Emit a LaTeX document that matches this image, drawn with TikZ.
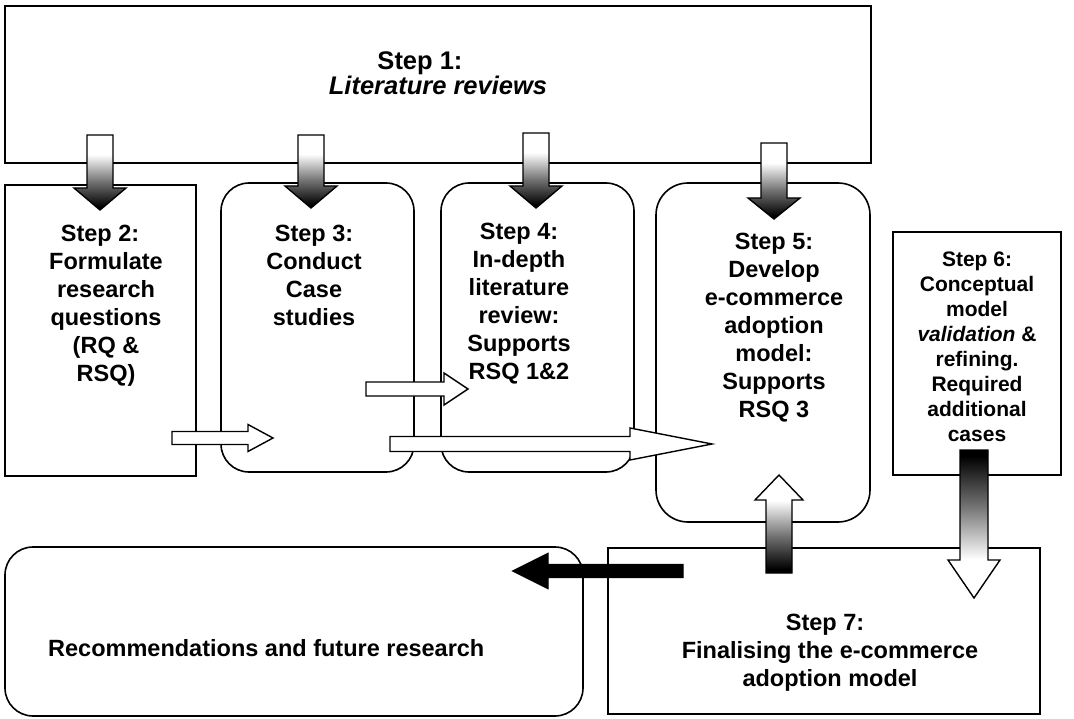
\documentclass[tikz,border=0pt]{standalone}
\usepackage{fontspec}
\setmainfont{Liberation Sans}
\usetikzlibrary{calc}
% dark at the bottom, fading to white towards the top
\pgfdeclareverticalshading{stepfade}{100bp}{color(0bp)=(black); color(27bp)=(black); color(44bp)=(black!55); color(62bp)=(white); color(100bp)=(white)}

% block arrow from #2 (tail) to #3 (tip):
% #4 half shaft width, #5 half head width, #6 head length
\newcommand\blockarrow[6]{%
  \coordinate (headbase) at ($(#3)!#6!(#2)$);
  \path[#1] ($(#2)!#4!90:(#3)$) -- ($(headbase)!#4!90:(#3)$)
    -- ($(headbase)!#5!90:(#3)$) -- (#3) -- ($(headbase)!#5!-90:(#3)$)
    -- ($(headbase)!#4!-90:(#3)$) -- ($(#2)!#4!-90:(#3)$) -- cycle;}

\begin{document}
\begin{tikzpicture}[x=1pt,y=-1pt,
  box/.style={draw, line width=1.6pt, inner sep=0pt},
  rbox/.style={box, rounded corners=28pt},
  lbl/.style={align=center, inner sep=0pt, font=\bfseries\fontsize{23.5}{28}\selectfont},
  toplbl/.style={lbl, font=\bfseries\fontsize{25.5}{21}\selectfont},
  smalllbl/.style={lbl, font=\bfseries\fontsize{21}{25}\selectfont},
  feedarrow/.style={draw, line width=1.4pt, shade, shading=stepfade},
  hollowarrow/.style={draw, line width=1.4pt, fill=white},
  solidarrow/.style={draw, line width=1.4pt, fill=black}
]
\useasboundingbox (0,0) rectangle (1074,719);

% step boxes
\node[box,  minimum width=866pt, minimum height=157pt] (s1) at (438,84.5) {};
\node[box,  minimum width=191pt, minimum height=291pt] (s2) at (100.5,330.5) {};
\node[rbox, minimum width=193pt, minimum height=289pt] (s3) at (317.5,327.5) {};
\node[rbox, minimum width=193pt, minimum height=289pt] (s4) at (537.5,327.5) {};
\node[rbox, minimum width=214pt, minimum height=339pt, rounded corners=32pt] (s5) at (763,352.5) {};
\node[box,  minimum width=168pt, minimum height=243pt] (s6) at (977,353.5) {};
\node[box,  minimum width=432pt, minimum height=166pt] (s7) at (824,631) {};
\node[rbox, minimum width=578pt, minimum height=169pt] (rec) at (294,631.5) {};

% texts
\node[toplbl] (t1) at (438,73) {Step 1:\hspace*{36pt}\\\textit{Literature reviews}};
\node[lbl] (t2) at (106,306) {Step 2:\hspace*{12pt}\\Formulate\\research\\questions\\(RQ \&\\RSQ)};
\node[lbl] (t3) at (314,275) {Step 3:\\Conduct\\Case\\studies};
\node[lbl] (t4) at (519,304) {Step 4:\\In-depth\\literature\\review:\\Supports\\RSQ 1\&2};
\node[lbl] (t5) at (774,328) {Step 5:\\Develop\\e-commerce\\adoption\\model:\\Supports\\RSQ 3};
\node[smalllbl] (t6) at (977,347) {Step 6:\\Conceptual\\model\\\textit{validation} \&\\refining.\\Required\\additional\\cases};
\node[lbl] (t7) at (830,653) {Step 7:\hspace*{10pt}\\Finalising the e-commerce\\adoption model};
\node[lbl, anchor=west] (t8) at (48,648) {Recommendations and future research};

% end points of the arrows
\coordinate (d2a) at (100,135);  \coordinate (d2b) at (100,210);
\coordinate (d3a) at (311,135);  \coordinate (d3b) at (311,208);
\coordinate (d4a) at (536,133);  \coordinate (d4b) at (536,208);
\coordinate (d5a) at (774,143);  \coordinate (d5b) at (774,219);
\coordinate (a23a) at (172,438); \coordinate (a23b) at (273,438);
\coordinate (a34a) at (366,389); \coordinate (a34b) at (468,389);
\coordinate (a35a) at (390,444); \coordinate (a35b) at (712,444);
\coordinate (u75a) at (779,573); \coordinate (u75b) at (779,475);
\coordinate (d67a) at (974,450); \coordinate (d67b) at (974,598);
\coordinate (l7ra) at (683,571); \coordinate (l7rb) at (513,571);

% arrows from step 1 into steps 2-5
\blockarrow{feedarrow}{d2a}{d2b}{13pt}{26pt}{22pt}
\blockarrow{feedarrow}{d3a}{d3b}{13pt}{26pt}{22pt}
\blockarrow{feedarrow}{d4a}{d4b}{13pt}{26pt}{22pt}
\blockarrow{feedarrow}{d5a}{d5b}{13pt}{26pt}{21pt}

% hollow arrows between the steps
\blockarrow{hollowarrow}{a23a}{a23b}{6.5pt}{13.5pt}{25pt}
\blockarrow{hollowarrow}{a34a}{a34b}{7pt}{16pt}{24pt}
\blockarrow{hollowarrow}{a35a}{a35b}{7.5pt}{16pt}{82pt}

% refinement loop between steps 5, 6 and 7
\blockarrow{feedarrow}{u75a}{u75b}{13pt}{24pt}{25pt}
\blockarrow{feedarrow, shading angle=180}{d67a}{d67b}{14pt}{26pt}{38pt}

% step 7 leads to the recommendations
\blockarrow{solidarrow}{l7ra}{l7rb}{6.5pt}{17.5pt}{35pt}
\end{tikzpicture}
\end{document}
